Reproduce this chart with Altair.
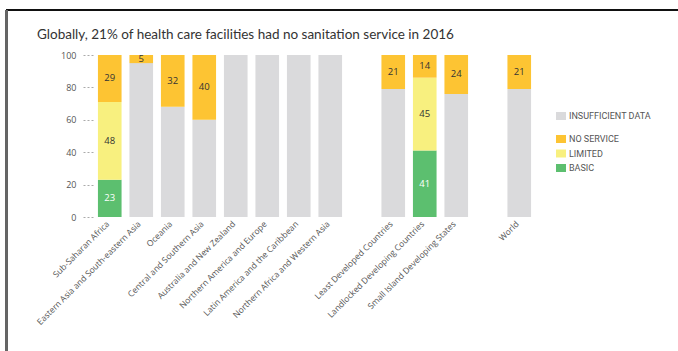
import altair as alt
import pandas as pd

title_text = "Globally, 21% of health care facilities had no sanitation service in 2016"

categories = [
    "Sub-Saharan Africa",
    "Eastern Asia and South-eastern Asia",
    "Oceania",
    "Central and Southern Asia",
    "Australia and New Zealand",
    "Northern America and Europe",
    "Latin America and the Caribbean",
    "Northern Africa and Western Asia",
    "Least Developed Countries",
    "Landlocked Developing Countries",
    "Small Island Developing States",
    "World",
]
basic = [23, 0, 0, 0, 0, 0, 0, 0, 0, 41, 0, 0]
limited = [48, 0, 0, 0, 0, 0, 0, 0, 0, 45, 0, 0]
no_service = [29, 5, 32, 40, 0, 0, 0, 0, 21, 14, 24, 21]
insufficient = [0, 95, 68, 60, 100, 100, 100, 100, 79, 0, 76, 79]
y_ticks = [0, 20, 40, 60, 80, 100]

# axis order, with empty slots separating the groups
axis_order = categories[:8] + [" "] + categories[8:11] + ["  "] + categories[11:]

status_order = ["BASIC", "INSUFFICIENT DATA", "LIMITED", "NO SERVICE"]
series = {
    "BASIC": basic,
    "INSUFFICIENT DATA": insufficient,
    "LIMITED": limited,
    "NO SERVICE": no_service,
}

rows = []
for s_i, s in enumerate(status_order):
    for c, v in zip(categories, series[s]):
        if v > 0:
            rows.append({"region": c, "status": s, "value": v, "order": s_i})
df = pd.DataFrame(rows)

FONT = "Open Sans"

x_scale = alt.Scale(domain=axis_order, paddingInner=0.25, paddingOuter=0.125)
y_scale = alt.Scale(domain=[0, 100], nice=False, zero=True)

x_axis = alt.Axis(
    title=None, labelAngle=-45, ticks=False, domain=False,
    labelAlign="right", labelBaseline="middle", labelOffset=-2,
    labelFont=FONT, labelFontSize=8.5, labelColor="#555555", labelPadding=5,
)
y_axis = alt.Axis(
    title=None, values=y_ticks, grid=False, domain=False,
    labelOverlap=False, labelFlush=False,
    tickSize=10, tickDash=[2, 2], tickColor="#aaaaaa", tickWidth=1, offset=1,
    labelFont=FONT, labelFontSize=9, labelColor="#555555", labelPadding=7,
)

x_enc = alt.X("region:N", scale=x_scale, axis=x_axis)

base = alt.Chart(df).transform_stack(
    stack="value", groupby=["region"], as_=["y0", "y1"],
    sort=[alt.SortField("order", order="ascending")],
).transform_calculate(mid="(datum.y0 + datum.y1) / 2")

sym = "M-1,-0.8L1,-0.8L1,0.8L-1,0.8Z"

gray_bars = base.transform_filter(alt.datum.status == "INSUFFICIENT DATA").mark_bar().encode(
    x=x_enc,
    y=alt.Y("y0:Q", scale=y_scale, axis=y_axis),
    y2="y1:Q",
    color=alt.Color(
        "status:N",
        scale=alt.Scale(domain=["INSUFFICIENT DATA"], range=["#dadadc"]),
        legend=alt.Legend(
            title=None, orient="none", legendX=462, legendY=56,
            symbolType=sym, symbolSize=100, symbolStrokeWidth=0,
            labelFont="Roboto", labelFontSize=9, labelColor="#555555",
            labelOffset=3, rowPadding=4.5, padding=0,
        ),
    ),
)

service_bars = base.transform_filter(alt.datum.status != "INSUFFICIENT DATA").mark_bar().encode(
    x=x_enc,
    y=alt.Y("y0:Q", scale=y_scale, axis=y_axis),
    y2="y1:Q",
    color=alt.Color(
        "status:N",
        scale=alt.Scale(domain=["NO SERVICE", "LIMITED", "BASIC"],
                        range=["#fdc433", "#f8f07f", "#5cbf6f"]),
        legend=alt.Legend(
            title=None, orient="none", legendX=462, legendY=79,
            symbolType=sym, symbolSize=100, symbolStrokeWidth=0,
            labelFont="Roboto", labelFontSize=9, labelColor="#555555",
            labelOffset=3, rowPadding=4.5, padding=0,
        ),
    ),
)

labels = base.transform_filter(alt.datum.status != "INSUFFICIENT DATA").mark_text(
    font=FONT, fontSize=9.5, baseline="middle", align="center",
).encode(
    x=x_enc,
    y=alt.Y("mid:Q", scale=y_scale, axis=y_axis),
    text="value:Q",
    color=alt.condition(alt.datum.status == "BASIC", alt.value("white"), alt.value("#333333")),
)

frame_top = alt.Chart(df).mark_rule(color="#111111", strokeWidth=2).encode(
    x=alt.value(-88), x2=alt.value(584), y=alt.value(-45)
)
frame_left = alt.Chart(df).mark_rule(color="#666666", strokeWidth=1.5).encode(
    x=alt.value(-87.5), y=alt.value(-45), y2=alt.value(296)
)

chart = alt.layer(gray_bars, service_bars, labels, frame_top, frame_left).resolve_scale(
    color="independent"
).properties(
    width=441,
    height=162,
    autosize=alt.AutoSizeParams(type="none"),
    padding={"left": 94, "top": 55, "right": 143, "bottom": 134},
    background="white",
    title=alt.TitleParams(
        title_text, anchor="start", frame="group", dx=-57, dy=61, offset=18,
        baseline="alphabetic", font="Lato", fontSize=13.5,
        fontWeight="normal", color="#333333",
    ),
).configure_view(stroke=None)

chart.save("out.html", embed_options={"renderer": "svg", "actions": False})
